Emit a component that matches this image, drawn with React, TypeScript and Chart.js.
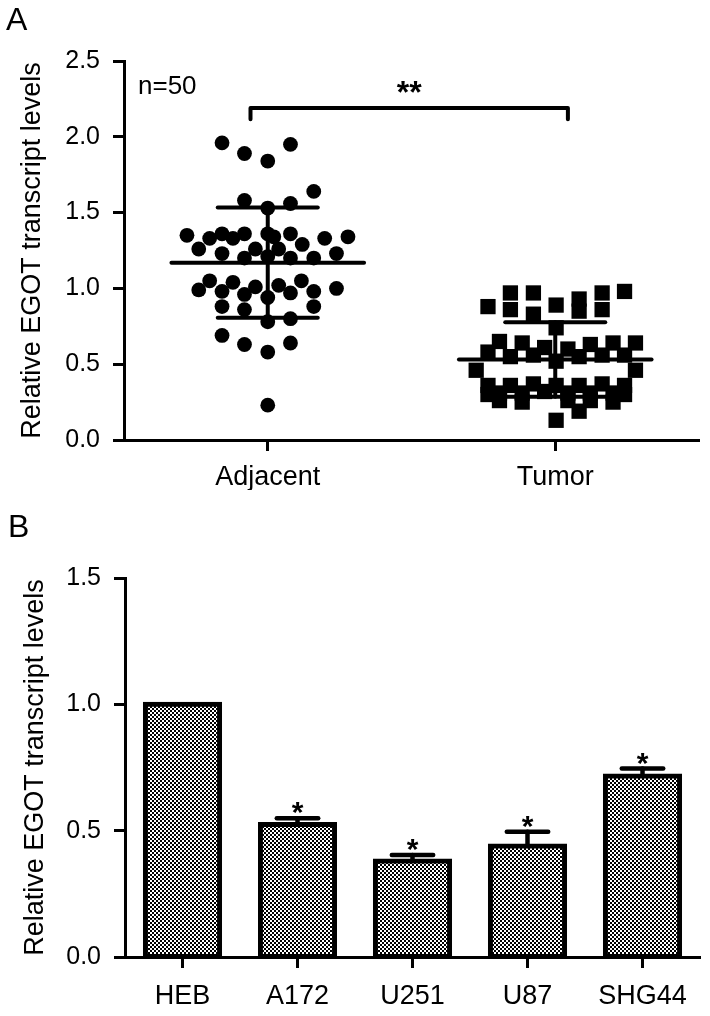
import React, { useEffect, useRef } from 'react';
import { Chart, registerables } from 'chart.js';

Chart.register(...registerables);

const FONT = '"Liberation Sans", Arial, sans-serif';

// ---------- Panel A data ----------
const groupLabelsA = ['Adjacent', 'Tumor'];
const yTicksA = [0, 0.5, 1.0, 1.5, 2.0, 2.5];
const yTitle = 'Relative EGOT transcript levels';

const adjacentValues = [
  1.96, 1.95, 1.89, 1.84, 1.64, 1.58, 1.56, 1.53,
  1.35, 1.36, 1.36, 1.36, 1.36, 1.34, 1.33, 1.33, 1.34, 1.29, 1.33,
  1.26, 1.23, 1.26, 1.26, 1.23, 1.2, 1.2, 1.2, 1.21,
  1.05, 1.04, 1.05, 0.99, 1.01, 1.02, 1.0,
  0.98, 0.96, 0.97, 0.98, 0.94,
  0.88, 0.86, 0.88, 0.78, 0.8,
  0.69, 0.63, 0.64, 0.58, 0.23,
];
// horizontal scatter (bee-swarm) offsets, in category units
const adjacentJitter = [
  -0.159, 0.079, -0.081, 0, 0.16, -0.081, 0.079, 0,
  -0.281, -0.159, -0.081, 0, 0.079, 0.279, -0.202, -0.121, 0.021, 0.12, 0.198,
  -0.24, -0.159, -0.043, 0.038, 0.239, -0.081, 0.079, 0.16, 0,
  -0.202, -0.121, 0.117, -0.24, -0.043, 0.038, 0.239,
  -0.159, -0.081, 0.079, 0.16, 0,
  -0.159, -0.081, 0.16, 0, 0.079,
  -0.159, -0.081, 0.079, 0, 0,
];

const tumorValues = [
  0.97, 0.97, 0.97, 0.98, 0.88, 0.86, 0.89, 0.93, 0.85, 0.86, 0.83, 0.74,
  0.65, 0.64, 0.61, 0.6, 0.63, 0.64, 0.64, 0.58, 0.55, 0.56, 0.55, 0.56, 0.56, 0.52, 0.46, 0.46,
  0.36, 0.36, 0.37, 0.36, 0.36, 0.37, 0.36,
  0.31, 0.31, 0.32, 0.31, 0.31, 0.31,
  0.26, 0.25, 0.26, 0.26, 0.25,
  0.3, 0.3,
  0.13, 0.19,
];
const tumorJitter = [
  -0.156, -0.076, 0.163, 0.241, -0.234, -0.156, 0.003, 0.083, 0.083, 0.163, -0.076, 0.003,
  -0.194, -0.115, -0.037, 0.044, 0.122, 0.201, 0.279, -0.234, -0.156, -0.076, 0.083, 0.163, 0.241, 0.003, -0.275, 0.279,
  -0.234, -0.156, -0.076, 0.003, 0.083, 0.163, 0.241,
  -0.194, -0.115, -0.037, 0.044, 0.122, 0.201,
  -0.194, -0.115, 0.044, 0.122, 0.201,
  -0.234, 0.241,
  0.003, 0.083,
];

const groupMeans = [1.17, 0.531];
const groupSDs = [0.363, 0.245];
const sampleSizeLabel = 'n=50';
const significanceA = '**';
const bracketLevel = 2.19;

// ---------- Panel B data ----------
const cellLines = ['HEB', 'A172', 'U251', 'U87', 'SHG44'];
const cellMeans = [1.0, 0.524, 0.38, 0.439, 0.716];
const cellErrors = [0, 0.025, 0.024, 0.057, 0.03];
const cellSignificance = ['', '*', '*', '*', '*'];
const yTicksB = [0, 0.5, 1.0, 1.5];

const tickFont = { family: FONT, size: 25 };
const labelFont = { family: FONT, size: 27 };
const titleFont = { family: FONT, size: 27 };

function strokeLine(ctx: CanvasRenderingContext2D, x1: number, y1: number, x2: number, y2: number) {
  ctx.beginPath();
  ctx.moveTo(x1, y1);
  ctx.lineTo(x2, y2);
  ctx.stroke();
}

const panelAPlugin = {
  id: 'panelADecor',
  beforeDatasetsDraw(chart: any) {
    const { ctx } = chart;
    const xs = chart.scales.x;
    const ys = chart.scales.y;
    const segs: number[][] = [];
    groupMeans.forEach((m, g) => {
      const sd = groupSDs[g];
      segs.push([g - 0.335, m, g + 0.335, m]);
      segs.push([g, m - sd, g, m + sd]);
      segs.push([g - 0.174, m + sd, g + 0.174, m + sd]);
      segs.push([g - 0.174, m - sd, g + 0.174, m - sd]);
    });
    ctx.save();
    ctx.lineCap = 'round';
    ctx.strokeStyle = '#000';
    ctx.lineWidth = 4;
    segs.forEach((s) =>
      strokeLine(ctx, xs.getPixelForValue(s[0]), ys.getPixelForValue(s[1]), xs.getPixelForValue(s[2]), ys.getPixelForValue(s[3]))
    );
    ctx.restore();
  },
  afterDatasetsDraw(chart: any) {
    const { ctx, chartArea } = chart;
    const xs = chart.scales.x;
    const ys = chart.scales.y;
    ctx.save();
    ctx.strokeStyle = '#000';
    ctx.lineWidth = 4;
    ctx.lineCap = 'round';
    ctx.lineJoin = 'round';
    // significance bracket
    const xl = xs.getPixelForValue(-0.06);
    const xr = xs.getPixelForValue(1.044);
    const yb = ys.getPixelForValue(bracketLevel);
    const yd = ys.getPixelForValue(bracketLevel - 0.075);
    ctx.beginPath();
    ctx.moveTo(xl, yd);
    ctx.lineTo(xl, yb);
    ctx.lineTo(xr, yb);
    ctx.lineTo(xr, yd);
    ctx.stroke();

    ctx.fillStyle = '#000';
    ctx.font = `bold 32px ${FONT}`;
    ctx.textAlign = 'center';
    ctx.textBaseline = 'alphabetic';
    ctx.fillText(significanceA, (xl + xr) / 2, yb - 5);

    ctx.font = `26px ${FONT}`;
    ctx.textAlign = 'left';
    ctx.fillText(sampleSizeLabel, chartArea.left + 14, ys.getPixelForValue(2.28));
    ctx.restore();
  },
};

const panelBPlugin = {
  id: 'panelBDecor',
  afterDatasetsDraw(chart: any) {
    const { ctx } = chart;
    const xs = chart.scales.x;
    const ys = chart.scales.y;
    ctx.save();
    ctx.strokeStyle = '#000';
    ctx.fillStyle = '#000';
    ctx.lineWidth = 4.5;
    ctx.lineCap = 'round';
    cellMeans.forEach((m, i) => {
      const err = cellErrors[i];
      const cx = xs.getPixelForValue(i);
      const yTop = ys.getPixelForValue(m + err);
      if (err > 0) {
        strokeLine(ctx, cx, ys.getPixelForValue(m), cx, yTop);
        strokeLine(ctx, xs.getPixelForValue(i - 0.18), yTop, xs.getPixelForValue(i + 0.18), yTop);
      }
      if (cellSignificance[i]) {
        ctx.font = `bold 30px ${FONT}`;
        ctx.textAlign = 'center';
        ctx.textBaseline = 'alphabetic';
        ctx.fillText(cellSignificance[i], cx, yTop + 4);
      }
    });
    ctx.restore();
  },
};

function makePattern(ctx: CanvasRenderingContext2D) {
  const pc = document.createElement('canvas');
  pc.width = 4;
  pc.height = 4;
  const g = pc.getContext('2d')!;
  g.fillStyle = '#ffffff';
  g.fillRect(0, 0, 4, 4);
  g.fillStyle = '#000000';
  g.fillRect(0, 0, 2, 2);
  g.fillRect(2, 2, 2, 2);
  return ctx.createPattern(pc, 'repeat');
}

function axisCommon() {
  return {
    grid: { drawOnChartArea: false, drawTicks: true, tickLength: 11, tickWidth: 3, color: '#000' },
    border: { display: true, width: 3, color: '#000' },
  };
}

export default function App() {
  const refA = useRef<HTMLCanvasElement>(null);
  const refB = useRef<HTMLCanvasElement>(null);

  useEffect(() => {
    const chartA = new Chart(refA.current!, {
      type: 'scatter',
      data: {
        datasets: [
          {
            data: adjacentValues.map((v, i) => ({ x: 0 + adjacentJitter[i], y: v })),
            pointStyle: 'circle',
            pointRadius: 7.4,
            pointBackgroundColor: '#000',
            pointBorderWidth: 0,
          },
          {
            data: tumorValues.map((v, i) => ({ x: 1 + tumorJitter[i], y: v })),
            pointStyle: 'rect',
            pointRadius: 10.8,
            pointBackgroundColor: '#000',
            pointBorderWidth: 0,
          },
        ],
      },
      options: {
        animation: false,
        responsive: false,
        events: [],
        layout: { padding: { top: 61, left: 0, right: 11, bottom: 10 } },
        plugins: { legend: { display: false }, tooltip: { enabled: false } },
        scales: {
          x: {
            type: 'linear',
            min: -0.5,
            max: 1.5,
            ...axisCommon(),
            afterBuildTicks: (s: any) => {
              s.ticks = groupLabelsA.map((_, i) => ({ value: i }));
            },
            afterFit: (s: any) => {
              s.height = 50;
            },
            ticks: {
              color: '#000',
              font: labelFont,
              padding: 10,
              maxRotation: 0,
              autoSkip: false,
              callback: (v: any) => groupLabelsA[v] ?? '',
            },
          },
          y: {
            type: 'linear',
            min: 0,
            max: 2.5,
            ...axisCommon(),
            afterBuildTicks: (s: any) => {
              s.ticks = yTicksA.map((v) => ({ value: v }));
            },
            afterFit: (s: any) => {
              s.width = 124;
            },
            ticks: {
              color: '#000',
              font: tickFont,
              padding: 13,
              callback: (v: any) => Number(v).toFixed(1),
            },
            title: { display: true, text: yTitle, color: '#000', font: titleFont, padding: { top: 16, bottom: 0 } },
          },
        },
      },
      plugins: [panelAPlugin],
    } as any);

    const ctxB = refB.current!.getContext('2d')!;
    const pattern = makePattern(ctxB);
    const chartB = new Chart(refB.current!, {
      type: 'bar',
      data: {
        labels: cellLines,
        datasets: [
          {
            data: cellMeans,
            backgroundColor: pattern,
            borderColor: '#000',
            borderWidth: 5,
            borderSkipped: false,
            inflateAmount: 2.5,
            barPercentage: 0.645,
            categoryPercentage: 1,
          },
        ],
      },
      options: {
        animation: false,
        responsive: false,
        events: [],
        layout: { padding: { top: 78, left: 0, right: 10, bottom: 9 } },
        plugins: { legend: { display: false }, tooltip: { enabled: false } },
        scales: {
          x: {
            type: 'category',
            ...axisCommon(),
            grid: { ...axisCommon().grid, offset: false },
            afterFit: (s: any) => {
              s.height = 50;
            },
            ticks: { color: '#000', font: labelFont, padding: 12, maxRotation: 0, autoSkip: false },
          },
          y: {
            type: 'linear',
            min: 0,
            max: 1.5,
            ...axisCommon(),
            afterBuildTicks: (s: any) => {
              s.ticks = yTicksB.map((v) => ({ value: v }));
            },
            afterFit: (s: any) => {
              s.width = 125;
            },
            ticks: {
              color: '#000',
              font: tickFont,
              padding: 13,
              callback: (v: any) => Number(v).toFixed(1),
            },
            title: { display: true, text: yTitle, color: '#000', font: titleFont, padding: { top: 19, bottom: 0 } },
          },
        },
      },
      plugins: [panelBPlugin],
    } as any);

    return () => {
      chartA.destroy();
      chartB.destroy();
    };
  }, []);

  const panelLabel: React.CSSProperties = {
    position: 'absolute',
    fontFamily: FONT,
    fontSize: 32,
    lineHeight: '32px',
    color: '#000',
  };

  return (
    <div style={{ position: 'absolute', left: 0, top: 0, width: 710, height: 1016, background: '#fff', overflow: 'hidden' }}>
      <canvas ref={refA} width={710} height={500} style={{ position: 'absolute', left: 0, top: 0, display: 'block' }} />
      <canvas ref={refB} width={710} height={516} style={{ position: 'absolute', left: 0, top: 500, display: 'block' }} />
      <div style={{ ...panelLabel, left: 6, top: 3 }}>A</div>
      <div style={{ ...panelLabel, left: 8, top: 510 }}>B</div>
    </div>
  );
}
